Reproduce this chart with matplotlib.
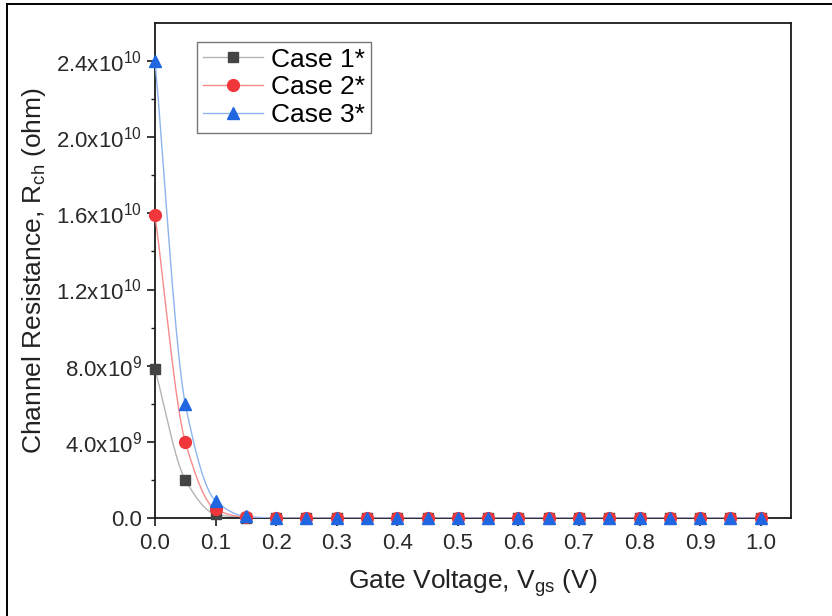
import matplotlib
matplotlib.use('Agg')
import matplotlib.pyplot as plt
from matplotlib.path import Path
from matplotlib.patches import PathPatch
from matplotlib.lines import Line2D
import numpy as np

# gate voltage grid (V)
vgs = [0.0, 0.05, 0.1, 0.15, 0.2, 0.25, 0.3, 0.35, 0.4, 0.45, 0.5,
       0.55, 0.6, 0.65, 0.7, 0.75, 0.8, 0.85, 0.9, 0.95, 1.0]
# channel resistance (ohm)
case1 = [7.8e9, 2.0e9, 0.2e9, 0.02e9] + [0.0] * 17
case2 = [1.59e10, 4.0e9, 0.45e9, 0.04e9] + [0.0] * 17
case3 = [2.4e10, 6.0e9, 0.9e9, 0.08e9] + [0.0] * 17
labels = ['Case 1*', 'Case 2*', 'Case 3*']
yticks = [0.0, 4.0e9, 8.0e9, 1.2e10, 1.6e10, 2.0e10, 2.4e10]
ytick_labels = ['0.0', r'4.0x10$^{9}$', r'8.0x10$^{9}$', r'1.2x10$^{10}$',
                r'1.6x10$^{10}$', r'2.0x10$^{10}$', r'2.4x10$^{10}$']

plt.rcParams['font.family'] = ['Liberation Sans', 'DejaVu Sans']
plt.rcParams['mathtext.fontset'] = 'custom'
plt.rcParams['mathtext.rm'] = 'Liberation Sans'
plt.rcParams['mathtext.it'] = 'Liberation Sans'
plt.rcParams['mathtext.default'] = 'regular'


def smooth_path(x, y):
  # monotone cubic hermite (Fritsch-Carlson) written as bezier segments
  x = np.asarray(x, float)
  y = np.asarray(y, float)
  h = np.diff(x)
  d = np.diff(y) / h
  m = np.zeros_like(y)
  m[0] = d[0]
  m[-1] = d[-1]
  for i in range(1, len(x) - 1):
    if d[i - 1] * d[i] <= 0:
      m[i] = 0.0
    else:
      w1 = 2 * h[i] + h[i - 1]
      w2 = h[i] + 2 * h[i - 1]
      m[i] = (w1 + w2) / (w1 / d[i - 1] + w2 / d[i])
  verts = [(x[0], y[0])]
  codes = [Path.MOVETO]
  for i in range(len(x) - 1):
    verts += [(x[i] + h[i] / 3, y[i] + m[i] * h[i] / 3),
              (x[i + 1] - h[i] / 3, y[i + 1] - m[i + 1] * h[i] / 3),
              (x[i + 1], y[i + 1])]
    codes += [Path.CURVE4] * 3
  return Path(verts, codes)


fig = plt.figure(figsize=(8.32, 6.16), dpi=100)
ax = fig.add_axes([0.1863, 0.1591, 0.7644, 0.8036])

styles = [
  (case1, 's', '#444444', '#b4b4b4', 7),
  (case2, 'o', '#f0363a', '#f78a8c', 8.5),
  (case3, '^', '#1f66e0', '#8db4ee', 8.5),
]
handles = []
for k, (vals, mk, dark, light, ms) in enumerate(styles):
  patch = PathPatch(smooth_path(vgs, vals), facecolor='none', edgecolor=light,
                    lw=1.0, zorder=2 + k)
  ax.add_patch(patch)
  ax.plot(vgs, vals, linestyle='none', marker=mk, ms=ms, mfc=dark, mec=dark,
          clip_on=False, zorder=5 + k)
  handles.append(Line2D([], [], color=light, lw=1.0, marker=mk, ms=ms,
                        mfc=dark, mec=dark))

ax.set_xlim(0, 1.05)
ax.set_ylim(0, 2.6e10)
ax.set_xticks(np.round(np.arange(0, 1.01, 0.1), 1))
ax.set_xticklabels(['%.1f' % v for v in np.arange(0, 1.01, 0.1)])
ax.set_yticks(yticks)
ax.set_yticklabels(ytick_labels)
ax.set_yticks(np.arange(0.2e10, 2.6e10, 0.4e10), minor=True)

for s in ax.spines.values():
  s.set_linewidth(1.3)
  s.set_color('#1a1a1a')
ax.tick_params(axis='both', which='major', direction='out', length=5.5,
               width=1.2, labelsize=16, colors='#1a1a1a', labelcolor='#2a2a2a',
               pad=4)
ax.tick_params(axis='x', which='major', pad=5)
ax.tick_params(axis='y', which='minor', direction='out', length=3, width=1.0,
               colors='#1a1a1a')
ax.tick_params(top=False, right=False)

ax.set_xlabel(r'Gate Voltage, V$_{gs}$ (V)', fontsize=19, color='#222222',
              labelpad=10)
ax.set_ylabel(r'Channel Resistance, R$_{ch}$ (ohm)', fontsize=19,
              color='#222222', labelpad=6)

leg = ax.legend(handles, labels, loc='upper left', bbox_to_anchor=(0.066, 0.962),
                fontsize=19, frameon=True, fancybox=False, handlelength=2.3,
                handletextpad=0.3, labelspacing=0.14, borderpad=0.22,
                borderaxespad=0)
leg.get_frame().set_edgecolor('#555555')
leg.get_frame().set_linewidth(1.0)

# screenshot frame on top and left
fig.add_artist(Line2D([0.0088, 1.0], [0.993, 0.993], transform=fig.transFigure,
                      color='black', lw=1.4))
fig.add_artist(Line2D([0.0088, 0.0088], [0.0, 0.993], transform=fig.transFigure,
                      color='black', lw=1.4))

plt.savefig('out.png', dpi=100)
